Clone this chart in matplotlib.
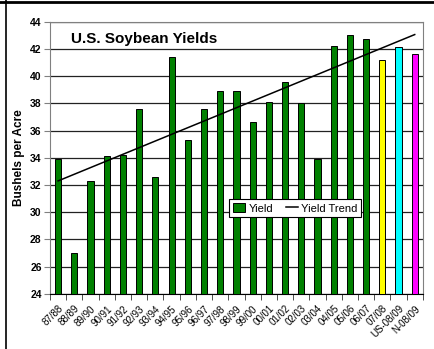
import numpy as np
import matplotlib.pyplot as plt
from matplotlib.patches import Patch
from matplotlib.lines import Line2D

plt.rcParams['font.family'] = ['Liberation Sans', 'DejaVu Sans']

seasons = ["87/88", "88/89", "89/90", "90/91", "91/92", "92/93", "93/94", "94/95",
           "95/96", "96/97", "97/98", "98/99", "99/00", "00/01", "01/02", "02/03",
           "03/04", "04/05", "05/06", "06/07", "07/08", "US-08/09", "N-08/09"]
yields = [33.9, 27.0, 32.3, 34.1, 34.2, 37.6, 32.6, 41.4, 35.3, 37.6, 38.9, 38.9,
          36.6, 38.1, 39.6, 38.0, 33.9, 42.2, 43.0, 42.7, 41.2, 42.1, 41.6]
bar_colors = ["#008000"] * 20 + ["#ffff00", "#00ffff", "#ff00ff"]
trend_ends = [32.3, 43.05]  # trend value at first and last season

fig = plt.figure(figsize=(4.35, 3.49), dpi=100)
ax = fig.add_axes([0.115, 0.158, 0.857, 0.780])

x = np.arange(len(seasons))
ax.bar(x, yields, width=0.38, color=bar_colors, edgecolor="black", linewidth=0.7,
       zorder=3)
ax.plot([x[0], x[-1]], trend_ends, color="black", linewidth=1.1, zorder=4)

ax.set_xlim(-0.5, len(seasons) - 0.5)
ax.set_ylim(24, 44)
ax.set_yticks(np.arange(24, 45, 2))
ax.yaxis.grid(True, color="#222222", linewidth=0.9, zorder=0)
ax.tick_params(axis="y", labelsize=7.5, length=4, color="#808080", pad=2)
for lab in ax.get_yticklabels():
    lab.set_fontweight("bold")

ax.set_xticks(x)
ax.set_xticklabels(seasons, rotation=45, ha="right", rotation_mode="anchor",
                   fontsize=7)
ax.set_xticks(np.arange(-0.5, len(seasons)), minor=True)
ax.tick_params(axis="x", which="major", length=0, pad=7)
ax.tick_params(axis="x", which="minor", length=4, color="#333333")

for side in ["top", "right", "left"]:
    ax.spines[side].set_color("#808080")
ax.spines["bottom"].set_color("black")

ax.set_ylabel("Bushels per Acre", fontsize=8.5, fontweight="bold", labelpad=4)
ax.text(0.056, 0.935, "U.S. Soybean Yields", transform=ax.transAxes,
        fontsize=11, fontweight="bold", va="center", zorder=5)

handles = [Patch(facecolor="#008000", edgecolor="black", linewidth=0.7),
           Line2D([0], [0], color="black", linewidth=1.1)]
leg = ax.legend(handles, ["Yield", "Yield Trend"], loc="center",
                bbox_to_anchor=(0.658, 0.314), fontsize=8, frameon=True,
                fancybox=False, framealpha=1, edgecolor="black",
                handlelength=1.1, handleheight=0.9, handletextpad=0.3,
                columnspacing=1.1, ncol=2, borderpad=0.35)
leg.get_frame().set_linewidth(0.8)
leg.set_zorder(6)

# outer chart border (top and left edges visible)
fig.add_artist(Line2D([0, 1], [0.995, 0.995], color="black", linewidth=2,
                      transform=fig.transFigure))
fig.add_artist(Line2D([0.013, 0.013], [0, 1], color="black", linewidth=1.2,
                      transform=fig.transFigure))

fig.savefig("out.png", dpi=100)
